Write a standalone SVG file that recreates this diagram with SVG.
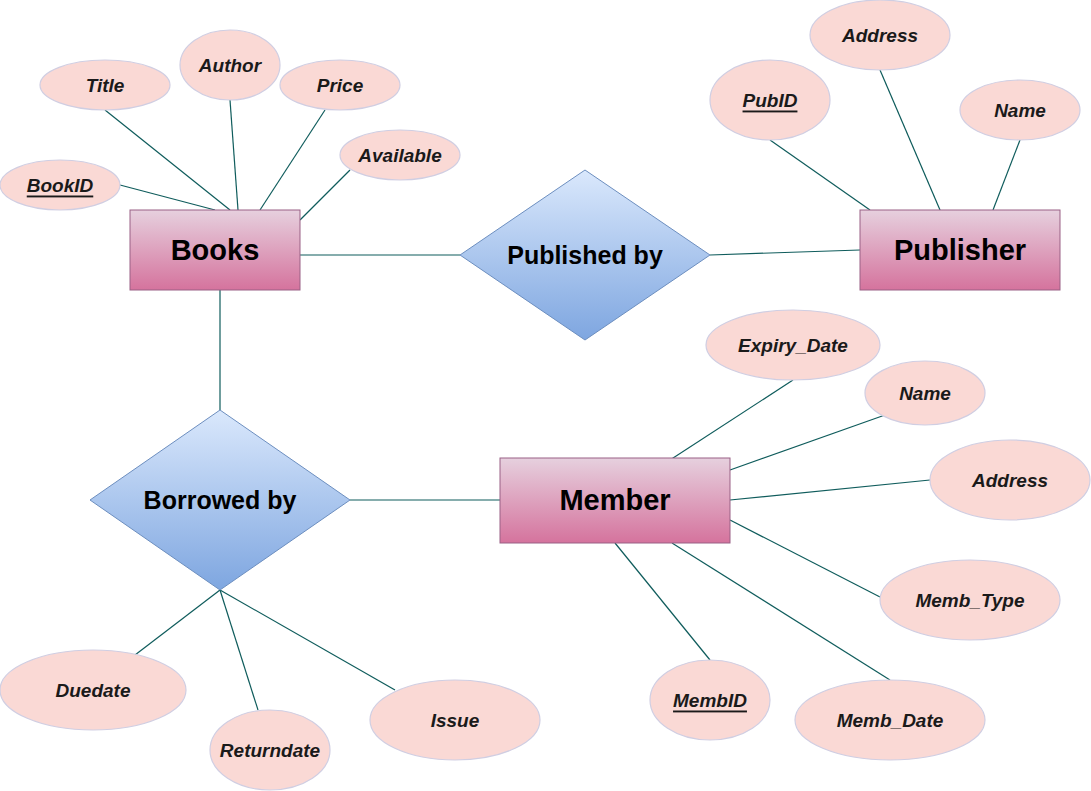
<svg xmlns="http://www.w3.org/2000/svg" width="1091" height="791" viewBox="0 0 1091 791">
<defs>
<linearGradient id="ent" x1="0" y1="0" x2="0" y2="1"><stop offset="0" stop-color="#e6d0de"/><stop offset="1" stop-color="#d5739d"/></linearGradient>
<linearGradient id="rel" x1="0" y1="0" x2="0" y2="1"><stop offset="0" stop-color="#dae8fc"/><stop offset="1" stop-color="#7ea6e0"/></linearGradient>
<style>
.e rect{fill:url(#ent);stroke:#996185;stroke-width:1}
.r polygon{fill:url(#rel);stroke:#6c8ebf;stroke-width:1}
.a ellipse{fill:#fad9d5;stroke:#d0cee2;stroke-width:1.2}
.et{font-family:"Liberation Sans",Arial,sans-serif;font-weight:bold;font-size:29px;fill:#000;text-anchor:middle;dominant-baseline:central}
.rt{font-family:"Liberation Sans",Arial,sans-serif;font-weight:bold;font-size:25px;fill:#000;text-anchor:middle;dominant-baseline:central}
.at{font-family:"Liberation Sans",Arial,sans-serif;font-weight:bold;font-style:italic;font-size:19px;fill:#1a1a1a;text-anchor:middle;dominant-baseline:central}
.k{text-decoration:underline}
#connectors line{stroke:#0f5c5c;stroke-width:1.2}
</style>
</defs>
<rect width="1091" height="791" fill="#fff"/>
<g id="connectors">
<line x1="120" y1="185" x2="215" y2="210"/>
<line x1="105" y1="110" x2="230" y2="210"/>
<line x1="230" y1="100" x2="238" y2="210"/>
<line x1="325" y1="110" x2="260" y2="210"/>
<line x1="350" y1="170" x2="300" y2="220"/>
<line x1="300" y1="255" x2="460" y2="255"/>
<line x1="710" y1="255" x2="860" y2="250"/>
<line x1="770" y1="140" x2="870" y2="210"/>
<line x1="880" y1="70" x2="940" y2="210"/>
<line x1="1020" y1="140" x2="993" y2="210"/>
<line x1="220" y1="290" x2="220" y2="410"/>
<line x1="350" y1="500" x2="500" y2="500"/>
<line x1="793" y1="380" x2="670" y2="460"/>
<line x1="885" y1="415" x2="730" y2="470"/>
<line x1="930" y1="480" x2="730" y2="500"/>
<line x1="880" y1="597" x2="730" y2="520"/>
<line x1="890" y1="680" x2="672" y2="543"/>
<line x1="710" y1="660" x2="615" y2="543"/>
<line x1="220" y1="590" x2="135" y2="655"/>
<line x1="220" y1="590" x2="258" y2="710"/>
<line x1="220" y1="590" x2="395" y2="690"/>
</g>
<g id="books" class="e"><rect x="130" y="210" width="170" height="80"/><text class="et" x="215" y="250">Books</text></g>
<g id="publisher" class="e"><rect x="860" y="210" width="200" height="80"/><text class="et" x="960" y="250">Publisher</text></g>
<g id="member" class="e"><rect x="500" y="458" width="230" height="85"/><text class="et" x="615" y="500">Member</text></g>
<g id="published_by" class="r"><polygon points="460,255 585,170 710,255 585,340"/><text class="rt" x="585" y="255">Published by</text></g>
<g id="borrowed_by" class="r"><polygon points="90,500 220,410 350,500 220,590"/><text class="rt" x="220" y="500">Borrowed by</text></g>
<g id="attr_title" class="a"><ellipse cx="105" cy="85" rx="65" ry="25"/><text class="at" x="105" y="85">Title</text></g>
<g id="attr_author" class="a"><ellipse cx="230" cy="65" rx="50" ry="35"/><text class="at" x="230" y="65">Author</text></g>
<g id="attr_price" class="a"><ellipse cx="340" cy="85" rx="60" ry="25"/><text class="at" x="340" y="85">Price</text></g>
<g id="attr_available" class="a"><ellipse cx="400" cy="155" rx="60" ry="25"/><text class="at" x="400" y="155">Available</text></g>
<g id="attr_bookid" class="a"><ellipse cx="60" cy="185" rx="60" ry="25"/><text class="at k" x="60" y="185">BookID</text></g>
<g id="attr_pub_address" class="a"><ellipse cx="880" cy="35" rx="70" ry="35"/><text class="at" x="880" y="35">Address</text></g>
<g id="attr_pubid" class="a"><ellipse cx="770" cy="100" rx="60" ry="40"/><text class="at k" x="770" y="100">PubID</text></g>
<g id="attr_pub_name" class="a"><ellipse cx="1020" cy="110" rx="60" ry="30"/><text class="at" x="1020" y="110">Name</text></g>
<g id="attr_expiry" class="a"><ellipse cx="793" cy="345" rx="87" ry="35"/><text class="at" x="793" y="345">Expiry_Date</text></g>
<g id="attr_mem_name" class="a"><ellipse cx="925" cy="393" rx="60" ry="32"/><text class="at" x="925" y="393">Name</text></g>
<g id="attr_mem_address" class="a"><ellipse cx="1010" cy="480" rx="80" ry="40"/><text class="at" x="1010" y="480">Address</text></g>
<g id="attr_memb_type" class="a"><ellipse cx="970" cy="600" rx="90" ry="40"/><text class="at" x="970" y="600">Memb_Type</text></g>
<g id="attr_memb_date" class="a"><ellipse cx="890" cy="720" rx="95" ry="40"/><text class="at" x="890" y="720">Memb_Date</text></g>
<g id="attr_membid" class="a"><ellipse cx="710" cy="700" rx="60" ry="40"/><text class="at k" x="710" y="700">MembID</text></g>
<g id="attr_duedate" class="a"><ellipse cx="93" cy="690" rx="93" ry="40"/><text class="at" x="93" y="690">Duedate</text></g>
<g id="attr_returndate" class="a"><ellipse cx="270" cy="750" rx="60" ry="40"/><text class="at" x="270" y="750">Returndate</text></g>
<g id="attr_issue" class="a"><ellipse cx="455" cy="720" rx="85" ry="40"/><text class="at" x="455" y="720">Issue</text></g>
</svg>
